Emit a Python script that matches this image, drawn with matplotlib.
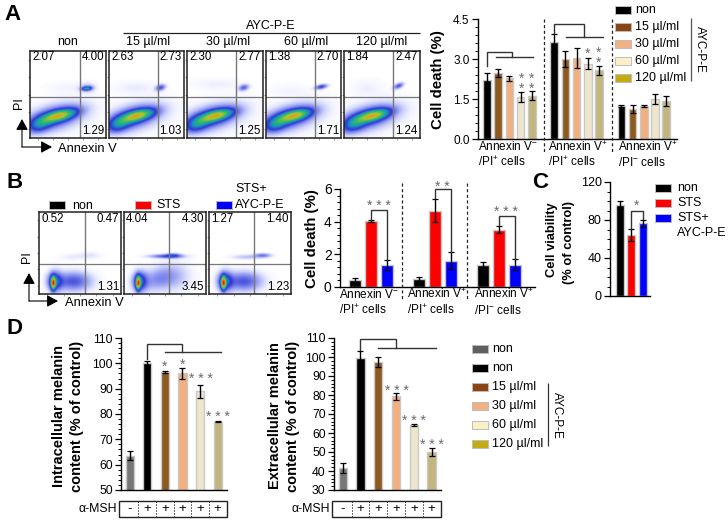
import numpy as np
import matplotlib
matplotlib.use("Agg")
import matplotlib.pyplot as plt
from matplotlib.colors import LinearSegmentedColormap
from matplotlib.patches import Rectangle
from matplotlib.ticker import MultipleLocator, FormatStrFormatter

plt.rcParams['font.family'] = ['Liberation Sans', 'DejaVu Sans']
plt.rcParams['mathtext.fontset'] = 'custom'
plt.rcParams['mathtext.rm'] = 'Liberation Sans'
plt.rcParams['mathtext.default'] = 'regular'

W, H = 728, 521
fig = plt.figure(figsize=(W/100, H/100), dpi=100, facecolor='white')

# ---------- data ----------
doses = ['15 µl/ml', '30 µl/ml', '60 µl/ml', '120 µl/ml']
a_flow_titles = ['non'] + doses
a_flow_numbers = [('2.07', '4.00', '1.29'), ('2.63', '2.73', '1.03'), ('2.30', '2.77', '1.25'),
                  ('1.38', '2.70', '1.71'), ('1.84', '2.47', '1.24')]
b_flow_numbers = [('0.52', '0.47', '1.31'), ('4.04', '4.30', '3.45'), ('1.27', '1.40', '1.23')]

a_means = [[2.20, 2.47, 2.27, 1.58, 1.63], [3.62, 3.00, 3.05, 2.83, 2.58], [1.24, 1.13, 1.24, 1.50, 1.43]]
a_errs = [[0.27, 0.15, 0.08, 0.20, 0.18], [0.33, 0.30, 0.38, 0.20, 0.17], [0.04, 0.15, 0.04, 0.20, 0.18]]
b_means = [[0.43, 4.03, 1.35], [0.47, 4.67, 1.62], [1.33, 3.50, 1.37]]
b_errs = [[0.10, 0.08, 0.28], [0.15, 0.72, 0.50], [0.22, 0.22, 0.35]]
c_means = [95.5, 64, 76.5]
c_errs = [4, 6.5, 3.5]
d1_means = [63.5, 100, 96.5, 96, 89, 77]
d1_errs = [1.7, 0.8, 0.5, 2.2, 2.5, 0.3]
d2_means = [41.5, 99.5, 97.3, 79.3, 64.2, 50]
d2_errs = [2.5, 3.7, 2.7, 1.7, 0.3, 2.2]
msh_signs = ['-', '+', '+', '+', '+', '+']

group_tops = ['Annexin V$^{-}$', 'Annexin V$^{+}$', 'Annexin V$^{+}$']
group_bots = ['/PI$^{+}$ cells', '/PI$^{+}$ cells', '/PI$^{-}$ cells']

# flow density blobs: x, y, sx, sy, tilt correlation, peak (axes fractions)
a_main = [(0.38, 0.255, 0.15, 0.05, 0.55, 0.50), (0.12, 0.15, 0.10, 0.06, 0.3, 0.24),
          (0.33, 0.24, 0.21, 0.09, 0.5, 0.22), (0.30, 0.22, 0.33, 0.13, 0.4, 0.09)]
a_blobs = [
    a_main + [(0.74, 0.57, 0.045, 0.016, 0.2, 0.40), (0.75, 0.58, 0.07, 0.04, 0, 0.08), (0.5, 0.58, 0.2, 0.05, 0, 0.02)],
    a_main + [(0.69, 0.58, 0.045, 0.025, 0.3, 0.22), (0.35, 0.58, 0.2, 0.05, 0, 0.03)],
    a_main + [(0.74, 0.58, 0.045, 0.025, 0.3, 0.20), (0.4, 0.62, 0.25, 0.05, 0, 0.025)],
    a_main + [(0.74, 0.59, 0.055, 0.02, 0.4, 0.25), (0.3, 0.55, 0.2, 0.05, 0, 0.02)],
    a_main + [(0.72, 0.60, 0.045, 0.025, 0.5, 0.22), (0.3, 0.58, 0.15, 0.07, 0, 0.025)],
]
b_core = [(0.17, 0.13, 0.02, 0.055, 0, 0.72), (0.19, 0.15, 0.06, 0.08, 0, 0.30), (0.42, 0.15, 0.15, 0.08, 0, 0.22)]
b_blobs = [
    b_core + [(0.62, 0.47, 0.1, 0.03, 0, 0.04), (0.4, 0.45, 0.1, 0.03, 0, 0.03)],
    b_core[:2] + [(0.42, 0.18, 0.16, 0.10, 0.3, 0.13), (0.62, 0.2, 0.15, 0.13, 0, 0.06),
                  (0.52, 0.46, 0.14, 0.016, 0, 0.22), (0.6, 0.47, 0.06, 0.02, 0, 0.15)],
    b_core + [(0.65, 0.47, 0.07, 0.018, 0, 0.17), (0.45, 0.45, 0.12, 0.02, 0, 0.08)],
]

# ---------- colours ----------
dose_bar_cols = ['black', '#8C5A1E', '#F2B07E', '#EDE6CC', '#C2B67E']
d_bar_cols = ['#777777', 'black', '#8C5A1E', '#F2B07E', '#EDE6CC', '#C2B67E']
bcols = ['black', '#FF0000', '#0000FF']
leg_cols = ['#5f5f5f', 'black', '#8A4513', '#F2B183', '#FBEFC9', '#C2AC12']
flow_cmap = LinearSegmentedColormap.from_list('flow', [
    (0, 'white'), (0.02, '#f2f3ff'), (0.10, '#a6aef5'), (0.26, '#2c36d6'), (0.40, '#1b8fc4'),
    (0.56, '#2fbf66'), (0.72, '#b9c22c'), (0.86, '#f08a1c'), (1, '#e01a10')])


def ax_px(x0, y0, x1, y1, **kw):
    return fig.add_axes([x0/W, 1-y1/H, (x1-x0)/W, (y1-y0)/H], **kw)


ov = ax_px(0, 0, W, H, zorder=10)
ov.set_xlim(0, W); ov.set_ylim(H, 0); ov.axis('off'); ov.patch.set_alpha(0)


def T(x, y, s, size=9, ha='left', va='center', **kw):
    ov.text(x, y, s, fontsize=size, ha=ha, va=va, **kw)


def L(xs, ys, lw=1.0, c='#222222', **kw):
    ov.plot(xs, ys, color=c, lw=lw, solid_capstyle='butt', **kw)


def density(blobs, n=90):
    xs = np.linspace(0, 1, n); ys = np.linspace(0, 1, n)
    X, Y = np.meshgrid(xs, ys)
    Z = np.zeros_like(X)
    for cx, cy, sx, sy, r, p in blobs:
        u = (X-cx)/sx; v = (Y-cy)/sy
        Z = Z + p*np.exp(-(u*u - 2*r*u*v + v*v)/(2*(1-r*r)))
    return Z


def flow(x0, y0, x1, y1, blobs, vx, hy, nums, fs=8.3):
    ax = ax_px(x0, y0, x1, y1)
    ax.imshow(density(blobs), origin='lower', extent=(0, 1, 0, 1), cmap=flow_cmap, vmin=0, vmax=1,
              aspect='auto', interpolation='bilinear')
    ax.axvline((vx-x0)/(x1-x0), color='#777777', lw=1.0)
    ax.axhline((y1-hy)/(y1-y0), color='#777777', lw=0.9)
    ax.set_xlim(0, 1); ax.set_ylim(0, 1)
    ax.set_xticks(np.arange(0.1, 1, 0.2)); ax.set_yticks(np.arange(0.1, 1, 0.2))
    ax.tick_params(length=1.5, width=0.5, color='#777777', labelbottom=False, labelleft=False)
    for s in ax.spines.values():
        s.set_linewidth(1.1); s.set_color('#222222')
    T(x0+2, y0+6.5, nums[0], fs)
    T(x1-2, y0+6.5, nums[1], fs, ha='right')
    T(x1-2, y1-7, nums[2], fs, ha='right')


def style(ax, major, minor=None, size=8.5):
    for s in ('top', 'right'):
        ax.spines[s].set_visible(False)
    ax.spines['left'].set_linewidth(1.0); ax.spines['bottom'].set_linewidth(1.0)
    ax.set_xticks([])
    ax.yaxis.set_major_locator(MultipleLocator(major))
    if minor:
        ax.yaxis.set_minor_locator(MultipleLocator(minor))
    ax.tick_params(axis='y', which='major', length=4.5, width=0.9, labelsize=size, pad=1.5)
    ax.tick_params(axis='y', which='minor', length=2.4, width=0.7)
    ax.patch.set_alpha(0)


def bars(ax, xs, vals, errs, cols, width, cap=2.2):
    ax.bar(xs, vals, width, color=cols, edgecolor='#c9c9c9', linewidth=1.0, zorder=2)
    ax.errorbar(xs, vals, yerr=errs, fmt='none', ecolor='black', elinewidth=1.0, capsize=cap, capthick=0.9, zorder=3)


def br(ax, xs, ys, lw=1.0, c='#333333'):
    ax.plot(xs, ys, color=c, lw=lw, solid_joinstyle='miter', clip_on=False, zorder=4)


def stars(x, y, s, size=10):
    ov.text(x, y+2, s, fontsize=size, ha='center', va='center', color='#6a6a6a', linespacing=0.62)


def swatch(x0, x1, yc, col, h=8):
    ov.add_patch(Rectangle((x0, yc-h/2), x1-x0, h, facecolor=col, edgecolor='#bdbdbd', lw=0.7))


def arrows(cx, cy, top, right):
    for xy in [(cx, top), (right, cy)]:
        ov.annotate('', xy=xy, xytext=(cx, cy),
                    arrowprops=dict(arrowstyle='-|>,head_length=0.55,head_width=0.3', color='black', lw=0.8,
                                    shrinkA=0, shrinkB=0, mutation_scale=12))


# panel letters
for x, y, s in [(4, 15, 'A'), (7, 182, 'B'), (532, 182, 'C'), (7, 328, 'D')]:
    T(x, y, s, 16, fontweight='bold')

# ---------- panel A flow ----------
a_x = [(30, 106), (109, 184), (187, 263), (266, 341), (344, 420)]
a_v = [80, 158, 236, 315, 393]
for (x0, x1), v, b, n in zip(a_x, a_v, a_blobs, a_flow_numbers):
    flow(x0, 51, x1, 138, b, v, 97, n)
for xc, s in zip([68, 148, 228, 306, 382], a_flow_titles):
    T(xc, 42, s, 9, ha='center')
T(271, 26, 'AYC-P-E', 9, ha='center')
L([123, 420], [33, 33], 0.9)
arrows(22, 147, 119, 52)
T(58, 149.5, 'Annexin V', 9.3)
T(19, 103, 'PI', 9, rotation=90, ha='center')

# ---------- panel A bars ----------
ax = ax_px(478, 19, 677, 139)
ax.set_xlim(-0.8, 16.96); ax.set_ylim(0, 4.5)
for g, (m, e) in enumerate(zip(a_means, a_errs)):
    bars(ax, [6*g+j for j in range(5)], m, e, dose_bar_cols, 0.68)
style(ax, 1.5, 0.3, 8.5)
ax.yaxis.set_major_formatter(FormatStrFormatter('%.1f'))
br(ax, [0, 0, 2.27, 2.27], [2.72, 3.28, 3.28, 3.07]); br(ax, [0.83, 4.13], [3.07, 3.07])
br(ax, [6, 6, 8.63, 8.63], [3.96, 4.31, 4.31, 3.81]); br(ax, [7.05, 10.37], [3.81, 3.81])
T(438, 80, 'Cell death (%)', 10.8, ha='center', rotation=90, fontweight='bold')
for gx, top, bot in zip([478, 548, 618], group_tops, group_bots):
    T(gx, 147, top, 8.5)
    T(gx, 162, bot, 8.5)
for x in (544, 612):
    ov.plot([x, x], [19, 154], color='#222222', lw=0.9, ls=(0, (2.5, 2)))
stars(522, 82, '*\n*'); stars(532, 82, '*\n*'); stars(588, 52, '*'); stars(599, 56, '*\n*')
for y, s, c in zip([10, 27, 44, 61, 78], ['non'] + doses, ['black', '#8A4513', '#F2B183', '#FBEFC9', '#C2AC12']):
    swatch(615, 631, y, c)
    T(635, y, s, 9)
L([691, 691], [18, 81], 0.9, c='#555555')
T(700, 49, 'AYC-P-E', 8.5, ha='center', rotation=270)

# ---------- panel B flow ----------
b_x = [(39, 121), (124, 206), (209, 291)]
b_v = [85, 169, 254]
for (x0, x1), v, b, n in zip(b_x, b_v, b_blobs, b_flow_numbers):
    flow(x0, 212, x1, 294, b, v, 264, n)
swatch(49, 65, 205, 'black'); T(72, 206, 'non', 9)
swatch(135, 151, 205, '#FF0000'); T(156, 205, 'STS', 9)
swatch(216, 232, 205, '#0000FF'); T(235, 205, 'AYC-P-E', 9)
T(235, 189, 'STS+', 9)
arrows(29, 301, 273, 58)
T(65, 303.5, 'Annexin V', 9.3)
T(27, 257, 'PI', 9, rotation=90, ha='center')

# ---------- panel B bars ----------
ax = ax_px(340, 189, 535, 287)
ax.set_xlim(-0.94, 11.25); ax.set_ylim(0, 6)
for g, (m, e) in enumerate(zip(b_means, b_errs)):
    bars(ax, [4*g+j for j in range(3)], m, e, bcols, 0.7)
style(ax, 2, 0.4, 10)
br(ax, [1, 1, 2, 2], [4.12, 4.71, 4.71, 1.66], 1.0)
br(ax, [5, 5, 6, 6], [5.43, 6.0, 6.0, 2.15], 1.0)
br(ax, [9, 9, 10, 10], [3.79, 4.36, 4.36, 1.73], 1.0)
T(312, 239, 'Cell death (%)', 10.8, ha='center', rotation=90, fontweight='bold')
for gx, top, bot in zip([339, 407, 474], group_tops, group_bots):
    T(gx, 294, top, 8.5)
    T(gx, 310, bot, 8.5)
for x in (402, 467):
    ov.plot([x, x], [183, 300], color='#222222', lw=0.9, ls=(0, (2.5, 2)))
for x, y, s in [(379, 204, '* * *'), (442, 185, '* *'), (506, 210, '* * *')]:
    stars(x, y, s, 10)

# ---------- panel C ----------
ax = ax_px(610, 182, 650, 296)
ax.set_xlim(-0.84, 2.64); ax.set_ylim(0, 120)
bars(ax, [0, 1, 2], c_means, c_errs, bcols, 0.7, cap=2)
style(ax, 40, 10, 9)
br(ax, [1, 1, 2, 2], [71, 90, 90, 81], 1.0)
stars(637, 204, '*', 10)
T(552, 240, 'Cell viability', 9.3, ha='center', rotation=90, fontweight='bold')
T(569, 242, '(% of control)', 9.3, ha='center', rotation=90, fontweight='bold')
for y, s, c in zip([188, 203, 218], ['non', 'STS', 'STS+'], bcols):
    swatch(655, 671, y, c)
    T(677, y, s, 9)
T(677, 233, 'AYC-P-E', 9)

# ---------- panel D ----------
def panel_d(x0, x1, ymin, means, errs, lab_x, lab1, lab2):
    ax = ax_px(x0, 338, x1, 490)
    ax.set_xlim(-0.49, 5.53); ax.set_ylim(ymin, 110)
    bars(ax, range(6), means, errs, d_bar_cols, 0.46, cap=2.4)
    style(ax, 10, 2, 8.8)
    T(lab_x[0], 416, lab1, 10.5, ha='center', rotation=90, fontweight='bold')
    T(lab_x[1], 416, lab2, 10.5, ha='center', rotation=90, fontweight='bold')
    # alpha-MSH strip
    bx0, bx1 = x0-2, x1
    ov.add_patch(Rectangle((bx0, 501), bx1-bx0, 16, facecolor='white', edgecolor='#222222', lw=1.0))
    tr = lambda v: x0 + (v+0.49)/6.02*(x1-x0)
    for i, s in enumerate(msh_signs):
        T(tr(i), 509, s, 9.5, ha='center')
        if i:
            ov.plot([tr(i-0.5)]*2, [501, 517], color='#333333', lw=0.7, ls=(0, (1.5, 1.5)))
    T(bx0-2, 509, 'α-MSH', 8.8, ha='right')
    return ax


ax = panel_d(121, 227, 50, d1_means, d1_errs, (59, 77), 'Intracellular melanin', 'content (% of control)')
br(ax, [1, 1, 2.97, 2.97], [101.9, 107.8, 107.8, 104.3]); br(ax, [2, 5.2], [104.3, 104.3])
for x, y, s in [(164.5, 365, '*'), (182.5, 363, '*'), (200.5, 377, '* * *'), (218, 415, '* * *')]:
    stars(x, y, s, 10)

ax = panel_d(334, 441, 30, d2_means, d2_errs, (275, 293), 'Extracellular melanin', 'content (% of control)')
br(ax, [1, 1, 3, 3], [103.9, 109.3, 109.3, 104.8]); br(ax, [2, 5.25], [104.8, 104.8])
for x, y, s in [(396.5, 389, '* * *'), (414, 419, '* * *'), (432, 443, '* * *')]:
    stars(x, y, s, 10)

for y, s, c in zip([349, 368, 387, 406, 425, 444], ['non', 'non'] + doses, leg_cols):
    swatch(472, 488, y, c)
    T(492, y, s, 9)
L([548, 548], [383, 446], 0.9, c='#333333')
T(557, 415, 'AYC-P-E', 8.5, ha='center', rotation=270)

fig.savefig('out.png', dpi=100)
